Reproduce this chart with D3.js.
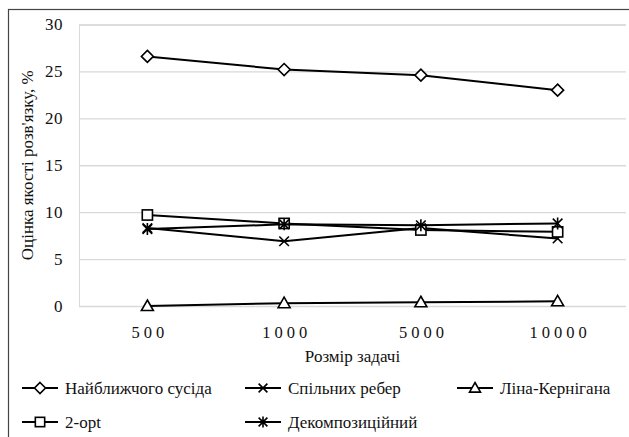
<!DOCTYPE html>
<html><head><meta charset="utf-8">
<script src="https://cdn.jsdelivr.net/npm/d3@7"></script>
<style>
body{margin:0;background:#fff}
svg{display:block}
</style>
</head><body>
<svg id="c" width="629" height="437"></svg>
<script>
const categories = ["500","1000","5000","10000"];
const seriesNames = ["Найближчого сусіда","Спільних ребер","Ліна-Кернігана","2-opt","Декомпозиційний"];
const nearest = [26.6, 25.2, 24.6, 23.0];
const commonEdges = [8.3, 6.9, 8.3, 7.2];
const linKernighan = [0.0, 0.3, 0.4, 0.5];
const twoOpt = [9.7, 8.8, 8.1, 7.9];
const decomposition = [8.2, 8.7, 8.6, 8.8];
const yTicks = [0,5,10,15,20,25,30];
const xTitle = "Розмір задачі";
const yTitle = "Оцінка якості розв'язку, %";
const markers = ["diamond","x","triangle","square","asterisk"];
const seriesValues = [nearest, commonEdges, linKernighan, twoOpt, decomposition];

const svg = d3.select("#c");
const L = 79, R = 626, T = 24.5, B = 306;
const x = d3.scalePoint().domain(categories).range([L, R]).padding(0.5);
const y = d3.scaleLinear().domain([0,30]).range([B, T]);
const fstyle = (size, extra) => `font-family:'Times New Roman',Tinos,'Liberation Serif',serif;font-size:${size}px;fill:#111;${extra||""}`;

// outer border
svg.append("rect").attr("x",8.5).attr("y",9.5).attr("width",700).attr("height",600)
  .attr("fill","none").attr("stroke","#444").attr("stroke-width",1.2);

// grid and axes
const yAxis = d3.axisLeft(y).tickValues(yTicks).tickSize(-(R-L)).tickPadding(16).tickFormat(d3.format("d"));
const gy = svg.append("g").attr("transform",`translate(${L},0)`).call(yAxis).attr("font-family",null).attr("font-size",null);
gy.select(".domain").attr("stroke","#d9d9d9");
gy.selectAll(".tick line").attr("stroke","#d9d9d9").attr("stroke-width",1.3);
gy.selectAll(".tick text").attr("fill",null).attr("style", fstyle(17,"letter-spacing:0.5px"));

const xAxis = d3.axisBottom(x).tickSize(0).tickPadding(20);
const gx = svg.append("g").attr("transform",`translate(0,${B})`).call(xAxis).attr("font-family",null).attr("font-size",null);
gx.select(".domain").remove();
gx.selectAll(".tick text").attr("fill",null).attr("dx","2px").attr("style", fstyle(16.5,"letter-spacing:4px"));

// axis titles
svg.append("text").attr("x",(L+R)/2).attr("y",362).attr("text-anchor","middle")
  .attr("style", fstyle(17)).text(xTitle);
svg.append("text").attr("transform",`translate(33,${(T+B)/2}) rotate(-90)`).attr("text-anchor","middle")
  .attr("style", fstyle(17)).text(yTitle);

function drawMarker(g, type, cx, cy, s) {
  const h = s/2;
  if (type === "diamond") {
    g.append("path").attr("d",`M${cx},${cy-h}L${cx+h},${cy}L${cx},${cy+h}L${cx-h},${cy}Z`)
      .attr("fill","#fff").attr("stroke","#000").attr("stroke-width",1.6);
  } else if (type === "square") {
    const q = h*0.85;
    g.append("rect").attr("x",cx-q).attr("y",cy-q).attr("width",2*q).attr("height",2*q)
      .attr("fill","#fff").attr("stroke","#000").attr("stroke-width",1.6);
  } else if (type === "triangle") {
    g.append("path").attr("d",`M${cx},${cy-h}L${cx+h},${cy+h*0.75}L${cx-h},${cy+h*0.75}Z`)
      .attr("fill","#fff").attr("stroke","#000").attr("stroke-width",1.6);
  } else if (type === "x") {
    const q = h*0.8;
    g.append("path").attr("d",`M${cx-q},${cy-q}L${cx+q},${cy+q}M${cx-q},${cy+q}L${cx+q},${cy-q}`)
      .attr("stroke","#000").attr("stroke-width",1.6).attr("fill","none");
  } else if (type === "asterisk") {
    const q = h*0.8;
    g.append("path").attr("d",`M${cx-q},${cy-q}L${cx+q},${cy+q}M${cx-q},${cy+q}L${cx+q},${cy-q}M${cx},${cy-h}L${cx},${cy+h}`)
      .attr("stroke","#000").attr("stroke-width",1.6).attr("fill","none");
  }
}

const line = d3.line().x((d,i)=>x(categories[i])).y(d=>y(d));
seriesValues.forEach((vals, si) => {
  const g = svg.append("g");
  g.append("path").datum(vals).attr("d",line).attr("fill","none").attr("stroke","#000").attr("stroke-width",2);
  vals.forEach((v,i) => drawMarker(g, markers[si], x(categories[i]), y(v), 12));
});

// legend
const legendPos = [[22,388],[245,388],[457,388],[22,422],[245,422]];
seriesNames.forEach((name, si) => {
  const [lx, ly] = legendPos[si];
  const g = svg.append("g");
  g.append("line").attr("x1",lx).attr("x2",lx+36).attr("y1",ly).attr("y2",ly).attr("stroke","#000").attr("stroke-width",2);
  drawMarker(g, markers[si], lx+18, ly, 11);
  g.append("text").attr("x",lx+43).attr("y",ly).attr("dy","0.35em")
    .attr("style", fstyle(17)).text(name);
});
</script>
</body></html>
